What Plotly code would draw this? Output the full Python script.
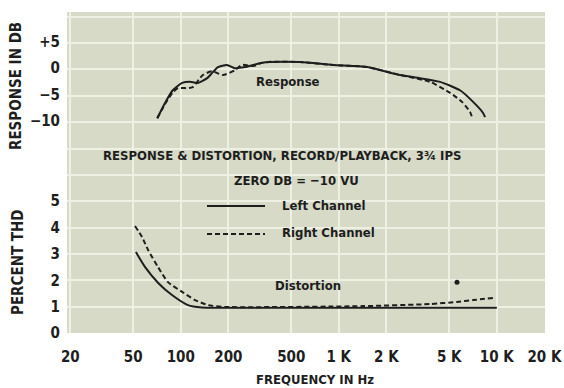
import plotly.graph_objects as go

# ---- data ----
resp_left_f = [71, 79.5, 89, 102, 114, 128, 147, 158, 172, 196, 220, 255, 287, 327, 367, 568, 920, 1510, 2440, 3270, 4370, 5850, 7080, 8190, 8430]
resp_left_db = [-9.5, -6.6, -4.2, -2.8, -2.6, -2.8, -1.9, -0.9, 0.2, 0.6, 0.0, 0.2, 0.6, 1.0, 1.15, 1.15, 0.6, 0.2, -1.3, -1.9, -2.6, -4.2, -6.4, -8.5, -9.3]

resp_right_f = [71, 79.5, 89, 96, 111, 119, 138, 158, 185, 220, 244, 287, 327, 367, 568, 920, 1510, 2440, 3780, 5060, 6020, 6770, 6970]
resp_right_db = [-9.5, -6.8, -4.6, -3.8, -3.8, -3.6, -1.3, -0.6, -1.3, -0.4, 0.6, 0.4, 1.0, 1.2, 1.15, 0.6, 0.2, -1.3, -2.6, -4.7, -6.4, -8.3, -9.3]

thd_left_f = [52, 59.5, 72, 88, 111, 136, 190, 568, 2440, 10000]
thd_left = [3.07, 2.50, 1.90, 1.44, 1.06, 0.97, 0.96, 0.96, 0.96, 0.96]

thd_right_f = [51.3, 56.9, 62.1, 71.8, 83, 102, 123, 149, 190, 1420, 3780, 5600, 7080, 9470]
thd_right = [4.06, 3.64, 3.15, 2.50, 1.93, 1.56, 1.25, 1.06, 0.99, 1.02, 1.10, 1.18, 1.25, 1.33]

dot_f = [5600]
dot_thd = [1.93]

freq_ticks = [20, 50, 100, 200, 500, 1000, 2000, 5000, 10000, 20000]
freq_labels = ["20", "50", "100", "200", "500", "1 K", "2 K", "5 K", "10 K", "20 K"]
db_ticks = [5, 0, -5, -10]
db_labels = ["+5", "0", "\u22125", "\u221210"]
thd_grid = list(range(0, 13))
thd_labels = ["0", "1", "2", "3", "4", "5"] + [""] * 7

FONT = "Liberation Sans Narrow, DejaVu Sans Condensed, Arial Narrow, sans-serif"
INK = "#1e1e1e"
BG = "#d6dac6"
GRID = "#eef0e4"

fig = go.Figure()
fig.add_trace(go.Scatter(x=resp_left_f, y=resp_left_db, yaxis="y2", mode="lines",
                         line=dict(color=INK, width=2, shape="spline", smoothing=0.6)))
fig.add_trace(go.Scatter(x=resp_right_f, y=resp_right_db, yaxis="y2", mode="lines",
                         line=dict(color=INK, width=2, dash="5px,3px", shape="spline", smoothing=0.6)))
fig.add_trace(go.Scatter(x=thd_left_f, y=thd_left, mode="lines",
                         line=dict(color=INK, width=2, shape="spline", smoothing=0.6)))
fig.add_trace(go.Scatter(x=thd_right_f, y=thd_right, mode="lines",
                         line=dict(color=INK, width=2, dash="5px,3px", shape="spline", smoothing=0.6)))
fig.add_trace(go.Scatter(x=dot_f, y=dot_thd, mode="markers",
                         marker=dict(color=INK, size=5)))

tickfont = dict(family=FONT, size=15, color=INK, weight="bold")
fig.update_layout(
    template="none",
    width=564, height=388,
    margin=dict(l=67, r=19, t=12, b=55, autoexpand=False),
    paper_bgcolor="white", plot_bgcolor=BG,
    showlegend=False,
    xaxis=dict(type="log", range=[1.28, 4.305], tickvals=freq_ticks, ticktext=freq_labels,
               automargin=False, ticklabeloverflow="allow",
               showgrid=True, gridcolor=GRID, gridwidth=2, zeroline=False, showline=False,
               ticks="outside", ticklen=10, tickcolor="rgba(0,0,0,0)", tickfont=tickfont),
    yaxis=dict(range=[0, 12.18], tickvals=thd_grid, ticktext=thd_labels, automargin=False,
               showgrid=True, gridcolor=GRID, gridwidth=2, zeroline=False, showline=False,
               ticks="outside", ticklen=3, tickcolor="rgba(0,0,0,0)", tickfont=tickfont),
    yaxis2=dict(overlaying="y", side="left", anchor="x", range=[-50.25, 10.65], automargin=False,
                tickvals=db_ticks, ticktext=db_labels, showgrid=False, zeroline=False,
                ticks="outside", ticklen=3, tickcolor="rgba(0,0,0,0)", tickfont=tickfont),
)

def px_x(p):
    return (p - 67) / 478.0

def px_y(p):
    return (333 - p) / 321.0

ann = dict(xref="paper", yref="paper", showarrow=False, yanchor="middle",
           font=dict(family=FONT, size=13, color=INK, weight="bold"))
big = dict(family=FONT, size=15, color=INK, weight="bold")
fig.add_annotation(text="RESPONSE & DISTORTION, RECORD/PLAYBACK, 3\u00be IPS", x=px_x(282), y=px_y(155), xanchor="center", **ann)
fig.add_annotation(text="ZERO DB = \u221210 VU", x=px_x(296), y=px_y(180), xanchor="center", **ann)
fig.add_annotation(text="Left Channel", x=px_x(280), y=px_y(205), xanchor="left", **ann)
fig.add_annotation(text="Right Channel", x=px_x(280), y=px_y(232), xanchor="left", **ann)
fig.add_annotation(text="Response", x=px_x(288), y=px_y(81), xanchor="center", **ann)
fig.add_annotation(text="Distortion", x=px_x(308), y=px_y(285), xanchor="center", **ann)
fig.add_annotation(text="FREQUENCY IN Hz", x=px_x(315), y=px_y(380), xanchor="center", **ann)
fig.add_annotation(text="RESPONSE IN DB", x=px_x(16), y=px_y(86), textangle=-90, xanchor="center",
                   **{**ann, "font": big})
fig.add_annotation(text="PERCENT THD", x=px_x(18), y=px_y(262), textangle=-90, xanchor="center",
                   **{**ann, "font": big})

fig.add_shape(type="line", xref="paper", yref="paper", x0=px_x(207), x1=px_x(265),
              y0=px_y(206), y1=px_y(206), line=dict(color=INK, width=2))
fig.add_shape(type="line", xref="paper", yref="paper", x0=px_x(207), x1=px_x(265),
              y0=px_y(234), y1=px_y(234), line=dict(color=INK, width=2, dash="5px,3px"))

fig.write_html("out.html", config={"displayModeBar": False},
               post_script="document.body.style.margin='0';")
